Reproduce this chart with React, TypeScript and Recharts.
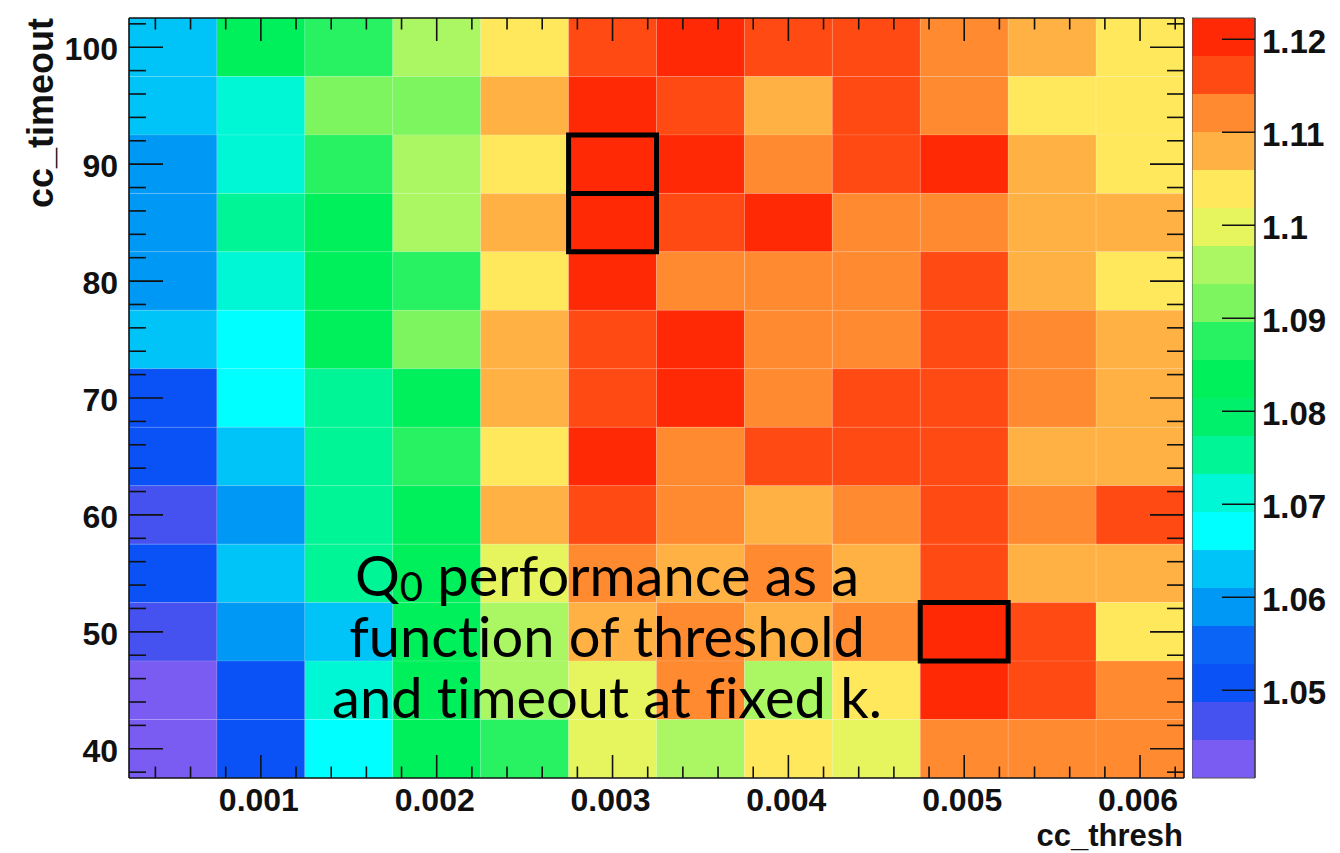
import React from 'react';
import { ScatterChart, Scatter, XAxis, YAxis, ReferenceArea, Label } from 'recharts';

// ---- data ----
const CC_THRESH = [0.0005, 0.001, 0.0015, 0.002, 0.0025, 0.003, 0.0035, 0.004, 0.0045, 0.005, 0.0055, 0.006];
const CC_TIMEOUT = [100, 95, 90, 85, 80, 75, 70, 65, 60, 55, 50, 45, 40];

const Q0_T100 = [1.0630, 1.0835, 1.0876, 1.0957, 1.1039, 1.1162, 1.1203, 1.1162, 1.1162, 1.1121, 1.1080, 1.1039];
const Q0_T95 = [1.0630, 1.0712, 1.0916, 1.0916, 1.1080, 1.1203, 1.1162, 1.1080, 1.1162, 1.1121, 1.1039, 1.1039];
const Q0_T90 = [1.0590, 1.0712, 1.0876, 1.0957, 1.1039, 1.1203, 1.1203, 1.1121, 1.1162, 1.1203, 1.1080, 1.1039];
const Q0_T85 = [1.0590, 1.0753, 1.0835, 1.0957, 1.1080, 1.1203, 1.1162, 1.1203, 1.1121, 1.1121, 1.1080, 1.1080];
const Q0_T80 = [1.0590, 1.0712, 1.0835, 1.0876, 1.1039, 1.1203, 1.1121, 1.1121, 1.1121, 1.1162, 1.1080, 1.1039];
const Q0_T75 = [1.0630, 1.0671, 1.0835, 1.0916, 1.1080, 1.1162, 1.1203, 1.1121, 1.1121, 1.1162, 1.1121, 1.1080];
const Q0_T70 = [1.0508, 1.0671, 1.0753, 1.0835, 1.1080, 1.1162, 1.1203, 1.1121, 1.1162, 1.1162, 1.1121, 1.1080];
const Q0_T65 = [1.0508, 1.0630, 1.0753, 1.0876, 1.1039, 1.1203, 1.1121, 1.1162, 1.1162, 1.1162, 1.1080, 1.1080];
const Q0_T60 = [1.0467, 1.0590, 1.0753, 1.0835, 1.1080, 1.1162, 1.1121, 1.1080, 1.1121, 1.1162, 1.1121, 1.1162];
const Q0_T55 = [1.0508, 1.0630, 1.0753, 1.0835, 1.0998, 1.1121, 1.1080, 1.1121, 1.1080, 1.1162, 1.1080, 1.1080];
const Q0_T50 = [1.0467, 1.0590, 1.0630, 1.0835, 1.0957, 1.1080, 1.1121, 1.1080, 1.1121, 1.1203, 1.1162, 1.1039];
const Q0_T45 = [1.0426, 1.0508, 1.0712, 1.0835, 1.0957, 1.0998, 1.1121, 1.0957, 1.1039, 1.1203, 1.1162, 1.1121];
const Q0_T40 = [1.0426, 1.0508, 1.0671, 1.0835, 1.0876, 1.0998, 1.0957, 1.1039, 1.0998, 1.1121, 1.1121, 1.1121];
const Q0_ROWS = [Q0_T100, Q0_T95, Q0_T90, Q0_T85, Q0_T80, Q0_T75, Q0_T70, Q0_T65, Q0_T60, Q0_T55, Q0_T50, Q0_T45, Q0_T40];

// highlighted best cells
const BEST_THRESH = [0.003, 0.003, 0.005];
const BEST_TIMEOUT = [90, 85, 50];

// ticks
const X_MAJOR_TICKS = [0.001, 0.002, 0.003, 0.004, 0.005, 0.006];
const X_MINOR_TICKS = [0.0004, 0.0006, 0.0008, 0.0012, 0.0014, 0.0016, 0.0018, 0.0022, 0.0024, 0.0026, 0.0028,
  0.0032, 0.0034, 0.0036, 0.0038, 0.0042, 0.0044, 0.0046, 0.0048, 0.0052, 0.0054, 0.0056, 0.0058, 0.0062];
const Y_MAJOR_TICKS = [40, 50, 60, 70, 80, 90, 100];
const Y_MINOR_TICKS = [38, 42, 44, 46, 48, 52, 54, 56, 58, 62, 64, 66, 68, 72, 74, 76, 78, 82, 84, 86, 88, 92, 94, 96, 98, 102];
const Z_TICKS = [1.05, 1.06, 1.07, 1.08, 1.09, 1.1, 1.11, 1.12];

const PALETTE = [
  '#7a5cf3', '#4552ef', '#0a52f5', '#0a64f6', '#0098f5',
  '#00c3f7', '#00ffff', '#00f7d6', '#00f596', '#00f06c',
  '#00f05c', '#28f162', '#7cf55f', '#aaf763', '#e6f45d',
  '#ffe85b', '#ffb143', '#ff8a30', '#ff4a14', '#ff2a05',
];
const Z_MIN = 1.04057;
const Z_MAX = 1.12229;

// ---- derived ----
const X_HALF = 0.00025;
const Y_HALF = 2.5;
const X_DOMAIN = [CC_THRESH[0] - X_HALF, CC_THRESH[CC_THRESH.length - 1] + X_HALF];
const Y_DOMAIN = [CC_TIMEOUT[CC_TIMEOUT.length - 1] - Y_HALF, CC_TIMEOUT[0] + Y_HALF];
const X_ALL = [...X_MAJOR_TICKS, ...X_MINOR_TICKS].sort((a, b) => a - b);
const Y_ALL = [...Y_MAJOR_TICKS, ...Y_MINOR_TICKS].sort((a, b) => a - b);
const BW = (Z_MAX - Z_MIN) / PALETTE.length;

const colorOf = (z: number) => {
  const i = Math.max(0, Math.min(PALETTE.length - 1, Math.floor((z - Z_MIN) / BW)));
  return PALETTE[i];
};

const cells = CC_TIMEOUT.flatMap((t, r) =>
  CC_THRESH.map((c, i) => ({ x: c, y: t, z: Q0_ROWS[r][i] }))
);
const bands = PALETTE.map((col, i) => ({ lo: Z_MIN + i * BW, hi: Z_MIN + (i + 1) * BW, col }));

const isIn = (arr: number[], v: number) => arr.some((a) => Math.abs(a - v) < 1e-9);

const FONT = '"Liberation Sans", Arial, Helvetica, sans-serif';

const XTick = (side: 'bottom' | 'top') => (props: any) => {
  const { x, y, payload } = props;
  const major = isIn(X_MAJOR_TICKS, payload.value);
  const len = major ? 23 : 11.5;
  const dir = side === 'bottom' ? -1 : 1;
  return (
    <g>
      <line x1={x} x2={x} y1={y} y2={y + dir * len} stroke="#111" strokeWidth={1.6} />
      {side === 'bottom' && major ? (
        <text x={x - 2} y={y + 33} textAnchor="middle" fontFamily={FONT} fontWeight={700} fontSize={32} fill="#111">
          {String(payload.value)}
        </text>
      ) : null}
    </g>
  );
};

const YTick = (side: 'left' | 'right') => (props: any) => {
  const { x, y, payload } = props;
  const major = isIn(Y_MAJOR_TICKS, payload.value);
  const len = major ? 34 : 17;
  const dir = side === 'left' ? 1 : -1;
  return (
    <g>
      <line x1={x} x2={x + dir * len} y1={y} y2={y} stroke="#111" strokeWidth={1.6} />
      {side === 'left' && major ? (
        <text x={x - 11} y={y + 13} textAnchor="end" fontFamily={FONT} fontWeight={700} fontSize={32} fill="#111">
          {String(payload.value)}
        </text>
      ) : null}
    </g>
  );
};

const ZTick = (props: any) => {
  const { x, y, payload } = props;
  return (
    <g>
      <line x1={x - 33} x2={x} y1={y} y2={y} stroke="#111" strokeWidth={1.6} />
      <text x={x + 7} y={y + 14} textAnchor="start" fontFamily={FONT} fontWeight={700} fontSize={33} fill="#111">
        {String(payload.value)}
      </text>
    </g>
  );
};

const axisLine = { stroke: '#111', strokeWidth: 1.6 };

export default function App() {
  return (
    <div style={{ position: 'absolute', left: 0, top: 0, width: 1340, height: 853, background: '#fff' }}>
      <div style={{ position: 'absolute', left: 0, top: 0 }}>
        <ScatterChart width={1340} height={853} margin={{ top: 0, right: 0, bottom: 0, left: 0 }}>
          <XAxis
            xAxisId="b"
            type="number"
            dataKey="x"
            domain={X_DOMAIN}
            allowDataOverflow
            ticks={X_ALL}
            interval={0}
            height={75}
            tickSize={0}
            tickMargin={0}
            tickLine={false}
            axisLine={axisLine}
            tick={XTick('bottom')}
          >
            <Label
              content={() => (
                <text x={1183} y={846} textAnchor="end" fontFamily={FONT} fontWeight={700} fontSize={31} fill="#111">
                  cc_thresh
                </text>
              )}
            />
          </XAxis>
          <XAxis
            xAxisId="t"
            orientation="top"
            type="number"
            dataKey="x"
            domain={X_DOMAIN}
            allowDataOverflow
            ticks={X_ALL}
            interval={0}
            height={18}
            tickSize={0}
            tickMargin={0}
            tickLine={false}
            axisLine={axisLine}
            tick={XTick('top')}
          />
          <YAxis
            yAxisId="l"
            type="number"
            dataKey="y"
            domain={Y_DOMAIN}
            allowDataOverflow
            ticks={Y_ALL}
            interval={0}
            width={129}
            tickSize={0}
            tickMargin={0}
            tickLine={false}
            axisLine={axisLine}
            tick={YTick('left')}
          >
            <Label
              content={() => (
                <text
                  x={0}
                  y={0}
                  transform="translate(53,18) rotate(-90)"
                  textAnchor="end"
                  fontFamily={FONT}
                  fontWeight={700}
                  fontSize={36}
                  fill="#111"
                >
                  cc_timeout
                </text>
              )}
            />
          </YAxis>
          <YAxis
            yAxisId="r"
            orientation="right"
            type="number"
            dataKey="y"
            domain={Y_DOMAIN}
            allowDataOverflow
            ticks={Y_ALL}
            interval={0}
            width={156}
            tickSize={0}
            tickMargin={0}
            tickLine={false}
            axisLine={axisLine}
            tick={YTick('right')}
          />
          {cells.map((c, i) => (
            <ReferenceArea
              key={'c' + i}
              xAxisId="b"
              yAxisId="l"
              x1={c.x - X_HALF}
              x2={c.x + X_HALF}
              y1={c.y - Y_HALF}
              y2={c.y + Y_HALF}
              fill={colorOf(c.z)}
              fillOpacity={1}
              stroke="rgba(255,255,255,0.12)"
              strokeWidth={1}
              ifOverflow="visible"
            />
          ))}
          {BEST_THRESH.map((bx, i) => (
            <ReferenceArea
              key={'h' + i}
              xAxisId="b"
              yAxisId="l"
              x1={bx - X_HALF}
              x2={bx + X_HALF}
              y1={BEST_TIMEOUT[i] - Y_HALF}
              y2={BEST_TIMEOUT[i] + Y_HALF}
              fill="none"
              fillOpacity={0}
              stroke="#000"
              strokeWidth={5}
              ifOverflow="visible"
            />
          ))}
          <Scatter xAxisId="b" yAxisId="l" data={cells} isAnimationActive={false} shape={() => <g />} />
          <Scatter xAxisId="t" yAxisId="r" data={cells} isAnimationActive={false} shape={() => <g />} />
        </ScatterChart>
      </div>

      <div style={{ position: 'absolute', left: 1192, top: 0 }}>
        <ScatterChart width={148} height={853} margin={{ top: 18, right: 0, bottom: 75, left: 0 }}>
          <XAxis xAxisId="cx" type="number" dataKey="x" domain={[0, 1]} hide />
          <YAxis
            yAxisId="cz"
            orientation="right"
            type="number"
            dataKey="z"
            domain={[Z_MIN, Z_MAX]}
            allowDataOverflow
            ticks={Z_TICKS}
            interval={0}
            width={85}
            tickSize={0}
            tickMargin={0}
            tickLine={false}
            axisLine={{ stroke: '#333', strokeWidth: 1.2 }}
            tick={ZTick}
          />
          {bands.map((b, i) => (
            <ReferenceArea
              key={'b' + i}
              xAxisId="cx"
              yAxisId="cz"
              x1={0}
              x2={1}
              y1={b.lo}
              y2={b.hi}
              fill={b.col}
              fillOpacity={1}
              stroke="none"
              ifOverflow="visible"
            />
          ))}
          <ReferenceArea
            xAxisId="cx"
            yAxisId="cz"
            x1={0}
            x2={1}
            y1={Z_MIN}
            y2={Z_MAX}
            fill="none"
            fillOpacity={0}
            stroke="#555"
            strokeWidth={1}
            ifOverflow="visible"
          />
          <Scatter
            xAxisId="cx"
            yAxisId="cz"
            data={bands.map((b) => ({ x: 0.5, z: (b.lo + b.hi) / 2 }))}
            isAnimationActive={false}
            shape={() => <g />}
          />
        </ScatterChart>
      </div>

      <svg width={1340} height={853} style={{ position: 'absolute', left: 0, top: 0, pointerEvents: 'none' }}>
        <text
          x={607}
          y={596}
          fontFamily='Lato, "Open Sans", sans-serif'
          fontSize={56}
          fill="#000"
          textAnchor="middle"
          style={{ fontVariantLigatures: 'none', fontFeatureSettings: '"liga" 0, "clig" 0' }}
        >
          <tspan>Q</tspan>
          <tspan fontSize={40} dy={5}>0</tspan>
          <tspan dy={-5}> performance as a</tspan>
          <tspan x={607} dy={61}>function of threshold</tspan>
          <tspan x={607} dy={61}>and timeout at fixed k.</tspan>
        </text>
      </svg>
    </div>
  );
}
